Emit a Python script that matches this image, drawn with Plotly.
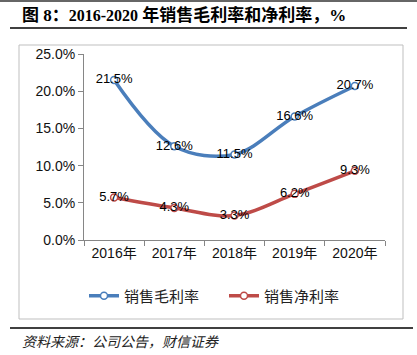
import plotly.graph_objects as go

years = ["2016年", "2017年", "2018年", "2019年", "2020年"]
gross_margin = [21.5, 12.6, 11.5, 16.6, 20.7]
net_margin = [5.7, 4.3, 3.3, 6.2, 9.3]
gross_labels = ["21.5%", "12.6%", "11.5%", "16.6%", "20.7%"]
net_labels = ["5.7%", "4.3%", "3.3%", "6.2%", "9.3%"]
y_ticks = [0, 5, 10, 15, 20, 25]
y_tick_text = ["0.0%", "5.0%", "10.0%", "15.0%", "20.0%", "25.0%"]

W, H = 417, 355
L, R, T, B = 84, 385, 54, 240

def px(x):
    return (x - L) / (R - L)

def py(y):
    return (B - y) / (B - T)

FONT = "Liberation Sans, Noto Sans CJK SC, sans-serif"
BLUE = "#4a7ebb"
RED = "#be4b48"

fig = go.Figure()
for name, vals, labels, col in [("销售毛利率", gross_margin, gross_labels, BLUE),
                                ("销售净利率", net_margin, net_labels, RED)]:
    fig.add_trace(go.Scatter(
        x=years, y=vals, name=name, mode="lines+markers+text",
        text=labels, textposition="middle center",
        textfont=dict(family=FONT, size=13, color="#000000"),
        line=dict(color=col, width=3.5, shape="spline", smoothing=1.0),
        marker=dict(symbol="circle", size=7, color="white",
                    line=dict(color=col, width=1.5)),
    ))

fig.update_layout(
    width=W, height=H,
    margin=dict(l=L, r=W - R, t=T, b=H - B, autoexpand=False),
    paper_bgcolor="white", plot_bgcolor="white",
    showlegend=True,
    legend=dict(orientation="h", x=px(84), xanchor="left", y=py(296), yanchor="middle",
                font=dict(family=FONT, size=15, color="#222222"),
                itemwidth=30, entrywidth=95, entrywidthmode="pixels"),
    xaxis=dict(type="category", showgrid=False, showline=True, linecolor="#868686",
               linewidth=1, ticks="outside", tickson="boundaries", ticklen=5,
               tickcolor="#868686", automargin=False,
               tickfont=dict(family=FONT, size=14, color="#111111"),
               range=[-0.5, 4.5], fixedrange=True),
    yaxis=dict(range=[0, 25], tickvals=y_ticks, ticktext=y_tick_text,
               showgrid=False, showline=True, linecolor="#868686", linewidth=1,
               ticks="outside", ticklen=5, tickcolor="#868686", automargin=False,
               tickfont=dict(family=FONT, size=14, color="#111111"),
               zeroline=False),
    font=dict(family=FONT),
)

shapes = [
    dict(type="line", xref="paper", yref="paper", x0=px(0), x1=px(417), y0=py(1), y1=py(1),
         line=dict(color="#333333", width=1.5)),
    dict(type="line", xref="paper", yref="paper", x0=px(10), x1=px(407), y0=py(28), y1=py(28),
         line=dict(color="#000000", width=1.5)),
    dict(type="rect", xref="paper", yref="paper", x0=px(19), x1=px(403), y0=py(319), y1=py(45),
         line=dict(color="#bfbfbf", width=1)),
    dict(type="line", xref="paper", yref="paper", x0=px(10), x1=px(413), y0=py(328), y1=py(328),
         line=dict(color="#000000", width=1.5)),
]
fig.update_layout(shapes=shapes)

title_html = ("<b>图 8：<span style='font-size:16px'>2016-2020</span> "
              "年销售毛利率和净利率，%</b>")
fig.add_annotation(xref="paper", yref="paper", x=px(20), y=py(15), xanchor="left", yanchor="middle",
                   text=title_html, showarrow=False,
                   font=dict(family="Liberation Serif, Noto Sans CJK SC, serif", size=17, color="#000000"))
fig.add_annotation(xref="paper", yref="paper", x=px(20), y=py(341), xanchor="left", yanchor="middle",
                   text="<i>资料来源：公司公告，财信证券</i>", showarrow=False,
                   font=dict(family="Noto Sans CJK SC, sans-serif", size=14, color="#222222"))

fig.write_html("out.html", config={"displayModeBar": False},
               post_script="document.body.style.margin='0';document.body.style.padding='0';")
